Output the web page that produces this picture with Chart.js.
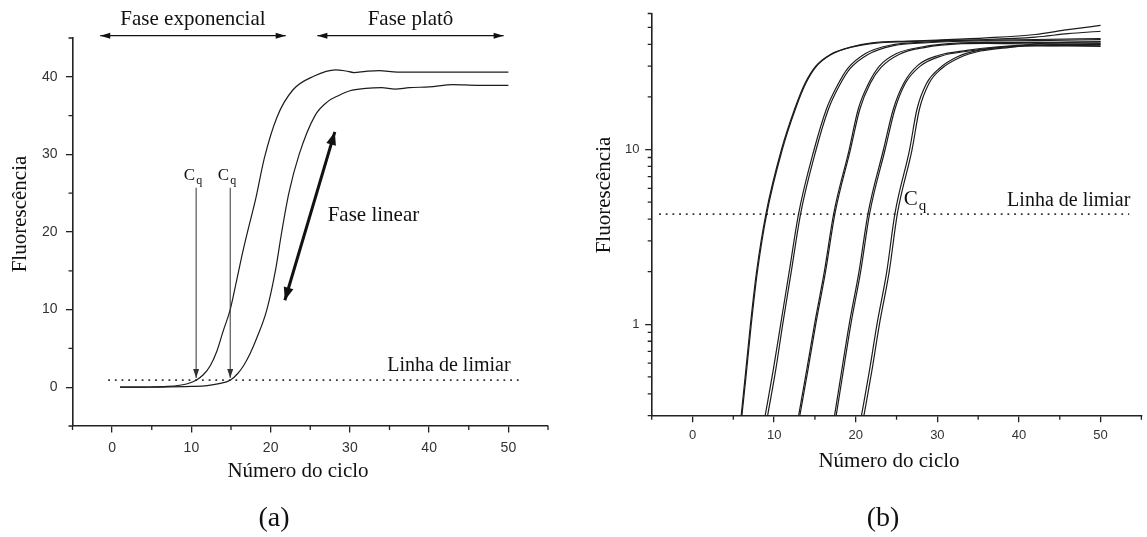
<!DOCTYPE html>
<html>
<head>
<meta charset="utf-8">
<script src="https://cdn.jsdelivr.net/npm/chart.js@4.4.1/dist/chart.umd.min.js"></script>
<style>
  body { margin: 0; background: #fff; }
  #wrap { position: relative; width: 1147px; height: 537px; overflow: hidden; }
  #chartA { position: absolute; left: 0; top: 0; }
  #chartB { position: absolute; left: 575px; top: 0; }
</style>
</head>
<body>
<div id="wrap">
  <canvas id="chartA" width="575" height="537"></canvas>
  <canvas id="chartB" width="572" height="537"></canvas>
</div>
<script>
Chart.defaults.font.family = '"Liberation Sans", Arial, sans-serif';
Chart.defaults.color = '#333';
var SERIF = '"Liberation Serif", "Times New Roman", serif';

// axis ticks
var cycleTicks = [-5, 0, 5, 10, 15, 20, 25, 30, 35, 40, 45, 50, 55];
var cycleLabels = [0, 10, 20, 30, 40, 50];
var fluorTicksA = [-5, 0, 5, 10, 15, 20, 25, 30, 35, 40, 45];
var fluorLabelsA = [0, 10, 20, 30, 40];
var fluorTicksB = [0.3, 0.4, 0.5, 0.6, 0.7, 0.8, 0.9, 1, 2, 3, 4, 5, 6, 7, 8, 9, 10, 20, 30, 40, 50, 60];
var fluorLabelsB = [1, 10];

// thresholds and Cq
var thresholdA = 0.9;
var thresholdB = 4.27;
var cqCyclesA = [10.6, 14.9];

// (a) two amplification curves, [cycle, fluorescence]
var curveA1 = [[1,0],[4,0.02],[7,0.1],[8.5,0.25],[9.5,0.45],[10.6,0.9],[11.5,1.6],[12.4,2.8],[13.2,4.6],[14,7.2],[14.9,10],[15.7,13.7],[16.5,17.5],[17.2,20.5],[18.1,24.2],[19.2,29.5],[20.8,34.8],[22.8,38.3],[25.5,40.1],[28.2,40.9],[29.5,40.75],[30.5,40.55],[32,40.7],[33.7,40.8],[36,40.6],[42,40.6],[50,40.6]];
var curveA2 = [[1,0],[6,0.02],[10,0.1],[12,0.2],[13.5,0.45],[14.9,0.9],[15.8,1.7],[16.6,2.8],[17.4,4.3],[18.2,6.2],[19.5,9.9],[20.6,15],[21.4,20],[22.3,25],[23.6,30],[25.6,35],[27.2,36.8],[28.6,37.6],[30,38.2],[32,38.5],[34,38.6],[35.7,38.4],[37.5,38.6],[40,38.7],[43,39],[46,38.9],[50,38.9]];

// (b) dilution series on a log scale, [cycle, fluorescence]
var curveB1 = [[5.96,0.3],[6.45,0.5],[7.1,1],[7.85,2],[9,4.3],[10.9,10],[12.5,17],[13.8,24],[15.1,30],[16.9,35],[19.4,38.6],[22,40.7],[26.3,41.7],[30,42.3],[36,43.5],[42,45.5],[46,48.5],[50,51.3]];
var curveB2 = [[6.05,0.3],[6.55,0.5],[7.2,1],[7.95,2],[9.1,4.3],[11,10],[12.6,17],[13.9,24],[15.2,30],[17,35],[19.5,38.5],[22.2,40.5],[26.5,41.4],[30,42],[36,42.6],[42,44],[46,46],[50,47.5]];
var curveB3 = [[8.9,0.3],[9.9,0.55],[10.8,1],[11.85,2],[13,4.3],[14.9,10],[16.4,17],[17.7,23],[19,29],[21.2,35.4],[24.2,39.5],[28.5,41.2],[32,42],[36,42.3],[42,42.6],[50,43.1]];
var curveB4 = [[9.2,0.3],[10.2,0.55],[11.05,1],[12.1,2],[13.25,4.3],[15.15,10],[16.65,17],[17.95,23],[19.3,29],[21.5,35],[24.5,39.2],[28.8,40.8],[32,41.5],[36,41.8],[42,42],[50,42.5]];
var curveB5 = [[13,0.3],[14,0.55],[14.95,1],[16.15,2],[17.3,4.3],[19.2,10],[20.3,17],[21.6,24],[22.9,30],[25,35.4],[28.1,38.6],[32.8,40.7],[36,41],[42,41],[50,41.2]];
var curveB6 = [[13.15,0.3],[14.15,0.55],[15.1,1],[16.3,2],[17.45,4.3],[19.35,10],[20.5,17],[21.8,24],[23.1,29.5],[25.3,35],[28.4,38.3],[33,40.3],[36,40.5],[42,40.2],[50,40.3]];
var curveB7 = [[17.4,0.3],[18.3,0.55],[19.2,1],[20.4,2],[21.5,4.3],[23.4,10],[24.6,17],[25.9,24],[27.6,30.3],[30.2,34.6],[33.6,36.9],[37.1,38.6],[40,39.5],[44,39.8],[50,40]];
var curveB8 = [[17.6,0.3],[18.5,0.55],[19.4,1],[20.6,2],[21.7,4.3],[23.6,10],[24.8,17],[26.1,24],[27.9,30],[30.5,34.3],[33.9,36.6],[37.3,38.3],[40,39],[44,39.3],[50,39.5]];
var curveB9 = [[20.7,0.3],[21.7,0.55],[22.6,1],[23.8,2],[24.8,4.3],[26.6,10],[27.5,17],[28.7,24],[30.2,29],[32.4,33.8],[35,36.9],[39.2,38.9],[42,39.3],[46,39.1],[50,38.9]];
var curveB10 = [[21,0.3],[22,0.55],[22.9,1],[24.1,2],[25.1,4.3],[26.9,10],[27.8,17],[29,24],[30.5,29],[32.7,33.5],[35.3,36.6],[39.5,38.7],[42,40.2],[46,41],[50,41.5]];

function curve(pairs) {
    return {
        data: pairs.map(function(p) { return {x: p[0], y: p[1]}; }),
        borderColor: '#1c1c1c',
        borderWidth: 1.2,
        pointRadius: 0,
        cubicInterpolationMode: 'monotone',
        fill: false
    };
}

function thresholdLine(from, to, value) {
    return {
        data: [{x: from, y: value}, {x: to, y: value}],
        borderColor: '#333',
        borderWidth: 1.8,
        borderDash: [1.8, 4.9],
        pointRadius: 0
    };
}

// only labelled ticks get the long tick mark; the short ones are drawn by minorTicks
function tickColor(labels) {
    return function(c) {
        return c.tick && labels.indexOf(c.tick.value) >= 0 ? '#222' : 'rgba(0,0,0,0)';
    };
}

function cycleAxis(size, pad, height) {
    return {
        type: 'linear', min: -5, max: 55,
        afterBuildTicks: function(s) { s.ticks = cycleTicks.map(function(v) { return {value: v}; }); },
        afterFit: function(s) { s.height = height; },
        ticks: {
            autoSkip: false, maxRotation: 0, padding: pad, color: '#333', font: {size: size},
            callback: function(v) { return cycleLabels.indexOf(v) >= 0 ? String(v) : ''; }
        },
        grid: { drawOnChartArea: false, tickLength: 6.5, tickColor: tickColor(cycleLabels), lineWidth: 1.3 },
        border: { display: true, color: '#222', width: 1.6 }
    };
}

function fluorAxis(type, min, max, tickList, labelList, size, pad, width) {
    return {
        type: type, min: min, max: max,
        afterBuildTicks: function(s) { s.ticks = tickList.map(function(v) { return {value: v}; }); },
        afterFit: function(s) { s.width = width; },
        ticks: {
            autoSkip: false, padding: pad, color: '#333', font: {size: size},
            callback: function(v) { return labelList.indexOf(v) >= 0 ? String(v) : ''; }
        },
        grid: { drawOnChartArea: false, tickLength: 6.5, tickColor: tickColor(labelList), lineWidth: 1.3 },
        border: { display: true, color: '#222', width: 1.6 }
    };
}

var minorTicks = {
    id: 'minorTicks',
    afterDraw: function(chart) {
        var ctx = chart.ctx, area = chart.chartArea;
        var x = chart.scales.x, y = chart.scales.y;
        ctx.save();
        ctx.strokeStyle = '#222';
        ctx.lineWidth = 1.3;
        ctx.beginPath();
        x.ticks.forEach(function(t) {
            if (cycleLabels.indexOf(t.value) >= 0) return;
            var px = x.getPixelForValue(t.value);
            ctx.moveTo(px, area.bottom);
            ctx.lineTo(px, area.bottom + 4);
        });
        var labels = y.type === 'logarithmic' ? fluorLabelsB : fluorLabelsA;
        y.ticks.forEach(function(t) {
            if (labels.indexOf(t.value) >= 0) return;
            var py = y.getPixelForValue(t.value);
            ctx.moveTo(area.left, py);
            ctx.lineTo(area.left - 4, py);
        });
        ctx.stroke();
        ctx.restore();
    }
};

// drawing helpers for the annotations
function head(ctx, x0, y0, x1, y1, len, half) {
    var a = Math.atan2(y1 - y0, x1 - x0);
    var c = Math.cos(a), s = Math.sin(a);
    ctx.beginPath();
    ctx.moveTo(x1, y1);
    ctx.lineTo(x1 - len * c - half * s, y1 - len * s + half * c);
    ctx.lineTo(x1 - len * c + half * s, y1 - len * s - half * c);
    ctx.closePath();
    ctx.fill();
}

function arrow(ctx, x0, y0, x1, y1, width, len, half, both) {
    ctx.lineWidth = width;
    ctx.beginPath();
    ctx.moveTo(x0, y0);
    ctx.lineTo(x1, y1);
    ctx.stroke();
    head(ctx, x0, y0, x1, y1, len, half);
    if (both) head(ctx, x1, y1, x0, y0, len, half);
}

function text(ctx, str, x, y, size, align, rot) {
    ctx.save();
    ctx.translate(x, y);
    if (rot) ctx.rotate(rot);
    ctx.font = size + 'px ' + SERIF;
    ctx.textAlign = align || 'center';
    ctx.textBaseline = 'middle';
    ctx.fillText(str, 0, 0);
    ctx.restore();
}

// "C" with subscript q; right edge of the C at x, baseline y
function cq(ctx, x, y, size) {
    ctx.font = size + 'px ' + SERIF;
    ctx.textAlign = 'right';
    ctx.textBaseline = 'alphabetic';
    ctx.fillText('C', x, y);
    ctx.font = Math.round(size * 0.72) + 'px ' + SERIF;
    ctx.textAlign = 'left';
    ctx.fillText('q', x + 1, y + size * 0.22);
}

var phasesA = [
    {label: 'Fase exponencial', from: -1.5, to: 21.9},
    {label: 'Fase platô', from: 25.9, to: 49.4}
];

var notesA = {
    id: 'notesA',
    afterDraw: function(chart) {
        var ctx = chart.ctx, x = chart.scales.x, y = chart.scales.y;
        ctx.save();
        ctx.fillStyle = '#111';
        ctx.strokeStyle = '#111';

        phasesA.forEach(function(p) {
            var x0 = x.getPixelForValue(p.from), x1 = x.getPixelForValue(p.to);
            var ya = y.getPixelForValue(45.3);
            arrow(ctx, x0, ya, x1, ya, 1.2, 10, 3, true);
            text(ctx, p.label, (x0 + x1) / 2, y.getPixelForValue(47.4), 21);
        });

        ctx.strokeStyle = '#333';
        ctx.fillStyle = '#333';
        cqCyclesA.forEach(function(c) {
            var px = x.getPixelForValue(c);
            arrow(ctx, px, y.getPixelForValue(25.7), px, y.getPixelForValue(1.2), 1, 9, 3, false);
        });
        ctx.fillStyle = '#111';
        cqCyclesA.forEach(function(c) {
            cq(ctx, x.getPixelForValue(c) - 1, y.getPixelForValue(26.7), 17);
        });

        // linear phase
        ctx.strokeStyle = '#111';
        arrow(ctx, x.getPixelForValue(28.1), y.getPixelForValue(32.9),
              x.getPixelForValue(21.8), y.getPixelForValue(11.2), 3, 13, 5, true);
        text(ctx, 'Fase linear', x.getPixelForValue(27.2), y.getPixelForValue(22.1), 21, 'left');
        text(ctx, 'Linha de limiar', x.getPixelForValue(42.5), y.getPixelForValue(2.8), 20);

        // axis titles and panel label
        text(ctx, 'Fluorescência', 20, 214, 21, 'center', -Math.PI / 2);
        text(ctx, 'Número do ciclo', 298, 471, 21);
        text(ctx, '(a)', 274, 519, 28);
        ctx.restore();
    }
};

var notesB = {
    id: 'notesB',
    afterDraw: function(chart) {
        var ctx = chart.ctx, x = chart.scales.x, y = chart.scales.y;
        ctx.save();
        ctx.fillStyle = '#111';
        cq(ctx, x.getPixelForValue(27.6), y.getPixelForValue(4.81), 21);
        text(ctx, 'Linha de limiar', x.getPixelForValue(46.1), y.getPixelForValue(5.1), 20);
        text(ctx, 'Fluorescência', 29, 195, 21, 'center', -Math.PI / 2);
        text(ctx, 'Número do ciclo', 314, 461, 21);
        text(ctx, '(b)', 308, 519, 28);
        ctx.restore();
    }
};

new Chart(document.getElementById('chartA'), {
    type: 'line',
    data: {
        datasets: [curve(curveA1), curve(curveA2), thresholdLine(-0.5, 51.5, thresholdA)]
    },
    options: {
        responsive: false,
        animation: false,
        layout: { padding: {top: 38, right: 27, left: 0, bottom: 0} },
        plugins: { legend: {display: false}, tooltip: {enabled: false} },
        scales: {
            x: cycleAxis(14, 7.5, 111),
            y: fluorAxis('linear', -5, 45, fluorTicksA, fluorLabelsA, 14, 8.5, 72.5)
        }
    },
    plugins: [minorTicks, notesA]
});

new Chart(document.getElementById('chartB'), {
    type: 'line',
    data: {
        datasets: [curveB1, curveB2, curveB3, curveB4, curveB5, curveB6, curveB7, curveB8, curveB9, curveB10]
            .map(curve)
            .concat([thresholdLine(-4.1, 53.5, thresholdB)])
    },
    options: {
        responsive: false,
        animation: false,
        layout: { padding: {top: 12.7, right: 1, left: 0, bottom: 0} },
        plugins: { legend: {display: false}, tooltip: {enabled: false} },
        scales: {
            x: cycleAxis(13, 5.6, 121.3),
            y: fluorAxis('logarithmic', 0.3, 60, fluorTicksB, fluorLabelsB, 13, 5.7, 76.7)
        }
    },
    plugins: [minorTicks, notesB]
});
</script>
</body>
</html>
